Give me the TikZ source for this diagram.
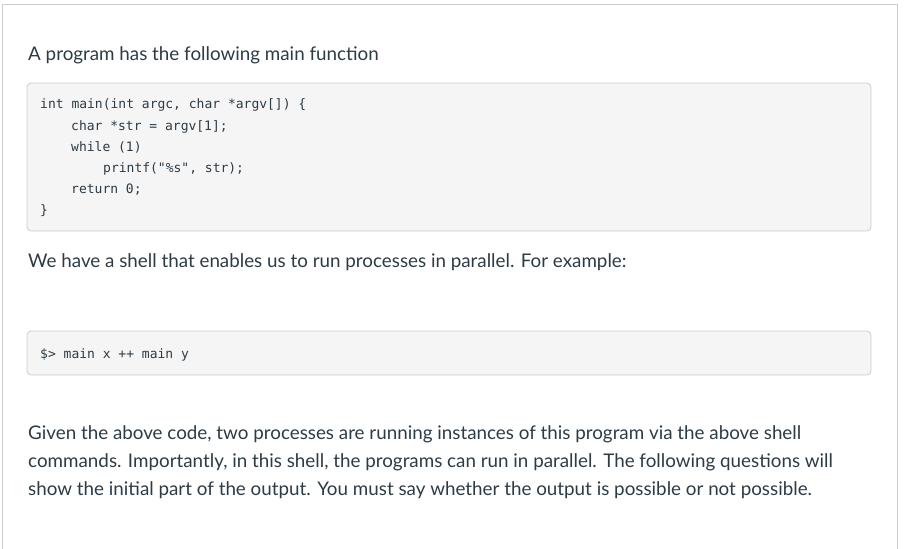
\documentclass[tikz,border=0pt]{standalone}
\usepackage{fontspec}
\setmainfont{Lato}
\setmonofont{DejaVu Sans Mono}
\definecolor{txt}{HTML}{2D3B45}
\definecolor{codebg}{HTML}{F5F5F5}
\definecolor{codebd}{HTML}{CCCCCC}
\tikzset{
  body/.style={anchor=base west, inner sep=0pt, text=txt, font=\fontsize{18.8}{28}\selectfont},
  code/.style={anchor=base west, inner sep=0pt, text=txt, font=\ttfamily\fontsize{13}{21}\selectfont},
  codebox/.style={draw=codebd, fill=codebg, rounded corners=4pt, line width=0.8pt}
}
\begin{document}
\begin{tikzpicture}[x=1pt,y=-1pt]
\useasboundingbox (0,0) rectangle (906,549);
\draw[codebd, line width=0.8pt] (2,4) rectangle (897,560);
\node[body] (t1) at (28,60) {A program has the following main function};
\draw[codebox] (27,83) rectangle (871,231);
\node[code] (c1) at (40,108) {int main(int argc, char *argv[]) \{};
\node[code] (c2) at (71,130) {char *str = argv[1];};
\node[code] (c3) at (71,151) {while (1)};
\node[code] (c4) at (103,172) {printf("\%s", str);};
\node[code] (c5) at (71,193) {return 0;};
\node[code] (c6) at (40,214) {\}};
\node[body] (t2) at (28,267) {We have a shell that enables us to run processes in parallel. For example:};
\draw[codebox] (27,331) rectangle (871,375);
\node[code] (s1) at (40,358) {\$> main x ++ main y};
\node[body] (p1) at (28,439) {Given the above code, two processes are running instances of this program via the above shell};
\node[body] (p2) at (28,467) {commands. Importantly, in this shell, the programs can run in parallel. The following questions will};
\node[body] (p3) at (28,495) {show the initial part of the output. You must say whether the output is possible or not possible.};
\end{tikzpicture}
\end{document}
